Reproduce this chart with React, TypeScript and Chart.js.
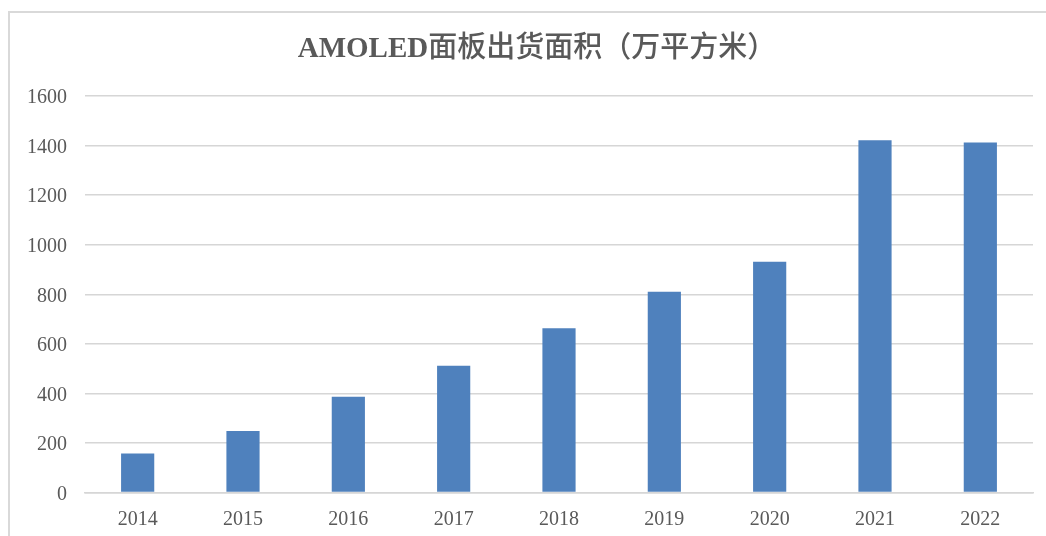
import React, { useEffect, useRef } from "react";
import { Chart, registerables } from "chart.js";

Chart.register(...registerables);

const categories: string[] = ["2014", "2015", "2016", "2017", "2018", "2019", "2020", "2021", "2022"];
const shipmentArea: number[] = [157, 248, 386, 511, 663, 810, 931, 1421, 1412];
const yTicks: number[] = [0, 200, 400, 600, 800, 1000, 1200, 1400, 1600];
const titleLatin = "AMOLED";
const titleCJK = "面板出货面积（万平方米）";

const W = 1046;
const H = 536;

export default function App() {
  const ref = useRef<HTMLCanvasElement | null>(null);

  useEffect(() => {
    if (!ref.current) return;
    const titlePlugin = {
      id: "customTitle",
      afterDraw(chart: any) {
        const ctx = chart.ctx;
        ctx.save();
        ctx.fillStyle = "#595959";
        ctx.textAlign = "left";
        ctx.textBaseline = "alphabetic";
        const fLatin = 'bold 29px "Liberation Serif", serif';
        const fCJK = '500 29px "Noto Sans CJK SC", sans-serif';
        ctx.font = fLatin;
        const w1 = ctx.measureText(titleLatin).width;
        ctx.font = fCJK;
        const w2 = ctx.measureText(titleCJK).width;
        const x0 = 537 - (w1 + w2) / 2;
        ctx.font = fLatin;
        ctx.fillText(titleLatin, x0, 57);
        ctx.font = fCJK;
        ctx.fillText(titleCJK, x0 + w1, 57);
        ctx.restore();
      },
    };
    const chart = new Chart(ref.current, {
      type: "bar",
      data: {
        labels: categories,
        datasets: [
          {
            label: "AMOLED面板出货面积",
            data: shipmentArea,
            backgroundColor: "#4F81BD",
            borderWidth: 0,
            barPercentage: 0.315,
            categoryPercentage: 1,
          },
        ],
      },
      options: {
        responsive: false,
        animation: false,
        devicePixelRatio: 1,
        layout: { padding: { top: 96, right: 13, left: 0, bottom: 0 } },
        plugins: {
          legend: { display: false },
          title: { display: false },
          tooltip: { enabled: false },
        },
        scales: {
          x: {
            grid: { display: false, drawTicks: false },
            border: { display: true, color: "#d6d6d6", width: 1.5 },
            ticks: {
              color: "#595959",
              font: { family: '"Liberation Serif", serif', size: 20 },
              padding: 15,
            },
            afterFit(scale: any) {
              scale.height = 43.5;
            },
          },
          y: {
            min: 0,
            max: 1600,
            afterBuildTicks(scale: any) {
              scale.ticks = yTicks.map((v) => ({ value: v }));
            },
            grid: { color: "#d6d6d6", lineWidth: 1.5, drawTicks: false },
            border: { display: false },
            ticks: {
              color: "#595959",
              font: { family: '"Liberation Serif", serif', size: 20 },
              padding: 18,
              labelOffset: 2,
              callback: (v: any) => String(v),
            },
            afterFit(scale: any) {
              scale.width = 85;
            },
          },
        },
      },
      plugins: [titlePlugin],
    });
    return () => chart.destroy();
  }, []);

  return (
    <div style={{ position: "fixed", left: 0, top: 0, width: W, height: H, overflow: "hidden", background: "#fff" }}>
      <div
        style={{
          position: "absolute",
          left: 8,
          top: 11,
          width: 1200,
          height: 800,
          border: "2px solid #d9d9d9",
          boxSizing: "border-box",
        }}
      />
      <canvas
        ref={ref}
        width={W}
        height={H}
        style={{ position: "absolute", left: 0, top: 0, width: W, height: H }}
      />
    </div>
  );
}
